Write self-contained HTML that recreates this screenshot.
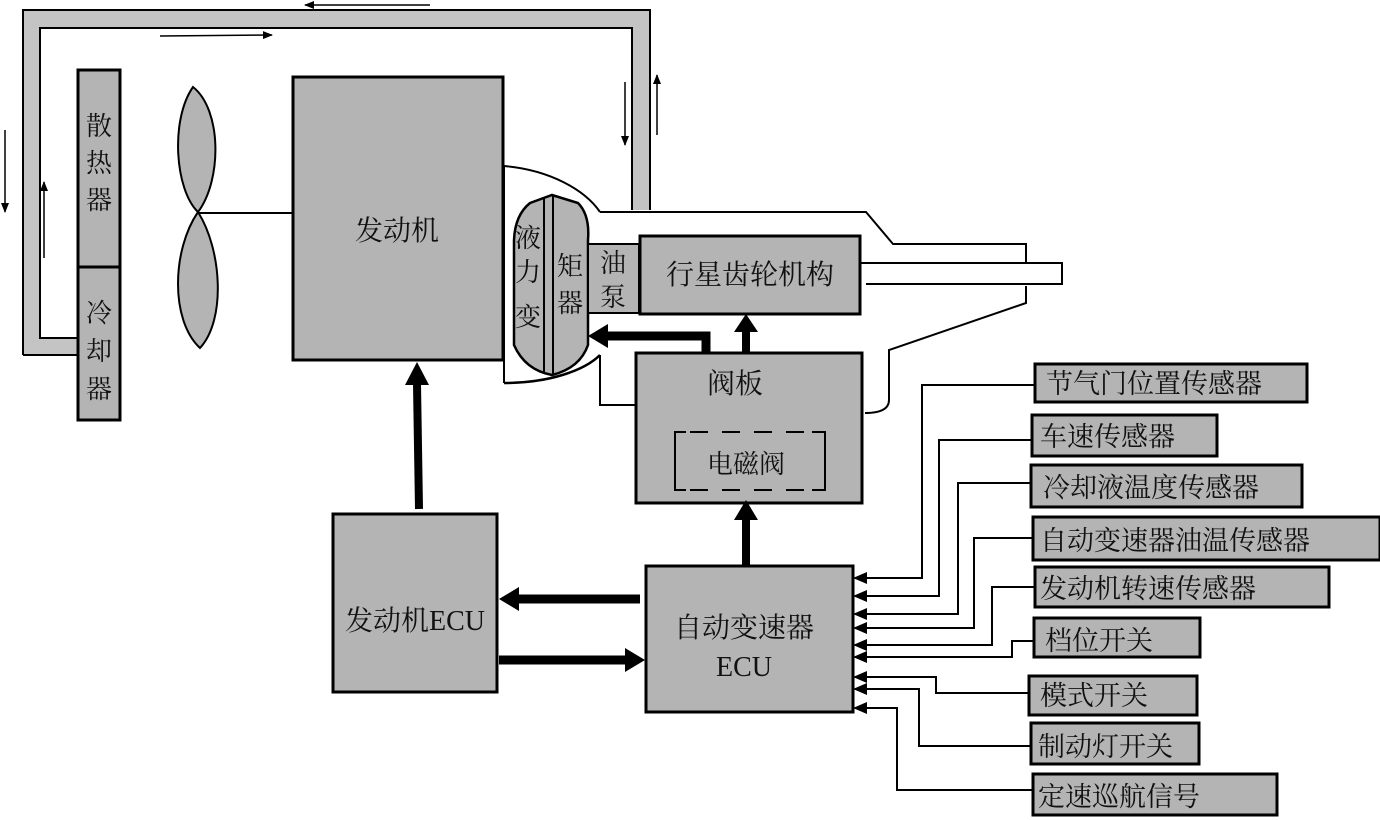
<!DOCTYPE html>
<html><head><meta charset="utf-8"><style>
body{margin:0;background:#fff;}
svg{display:block;}
text{font-family:"Liberation Serif","Noto Serif CJK SC","Noto Sans CJK SC",serif;fill:#111;}
</style></head><body>
<svg width="1380" height="820" viewBox="0 0 1380 820" xmlns="http://www.w3.org/2000/svg">
<defs>
<marker id="ah" markerWidth="10" markerHeight="8" refX="9" refY="4" orient="auto" markerUnits="userSpaceOnUse"><path d="M0,0 L10,4 L0,8 z" fill="#000"/></marker>
</defs>
<!-- pipe -->
<path d="M23,10 H650 V210 H632 V28 H40 V338 H78 V355 H23 Z" fill="#c4c4c4"/>
<path d="M23,355 V10 H650 V210" fill="none" stroke="#000" stroke-width="2"/>
<path d="M78,338 H40 V28 H632 V210" fill="none" stroke="#000" stroke-width="2"/>
<path d="M23,355 H78" stroke="#000" stroke-width="2"/>
<!-- pipe arrows -->
<line x1="430" y1="5" x2="305" y2="5" stroke="#000" stroke-width="1.5" marker-end="url(#ah)"/>
<line x1="160" y1="36" x2="272" y2="35" stroke="#000" stroke-width="1.5" marker-end="url(#ah)"/>
<line x1="5" y1="130" x2="5" y2="212" stroke="#000" stroke-width="1.5" marker-end="url(#ah)"/>
<line x1="44" y1="258" x2="44" y2="182" stroke="#000" stroke-width="1.5" marker-end="url(#ah)"/>
<line x1="625" y1="82" x2="625" y2="145" stroke="#000" stroke-width="1.5" marker-end="url(#ah)"/>
<line x1="657" y1="135" x2="657" y2="75" stroke="#000" stroke-width="1.5" marker-end="url(#ah)"/>
<!-- radiator -->
<rect x="78" y="70" width="42" height="350" fill="#b4b4b4" stroke="#000" stroke-width="3"/>
<line x1="78" y1="267" x2="120" y2="267" stroke="#000" stroke-width="3"/>
<text x="99" y="135" font-size="26" text-anchor="middle">散</text>
<text x="99" y="172" font-size="26" text-anchor="middle">热</text>
<text x="99" y="209" font-size="26" text-anchor="middle">器</text>
<text x="99" y="322" font-size="26" text-anchor="middle">冷</text>
<text x="99" y="360" font-size="26" text-anchor="middle">却</text>
<text x="99" y="398" font-size="26" text-anchor="middle">器</text>
<!-- fan -->
<path d="M193,87 C170,120 175,190 198,212 C222,180 222,110 193,87 Z" fill="#b4b4b4" stroke="#000" stroke-width="2"/>
<path d="M198,212 C172,250 170,320 200,348 C226,320 222,250 198,212 Z" fill="#b4b4b4" stroke="#000" stroke-width="2"/>
<line x1="198" y1="213" x2="293" y2="213" stroke="#000" stroke-width="2"/>
<!-- engine -->
<rect x="293" y="77" width="210" height="283" fill="#b4b4b4" stroke="#000" stroke-width="3"/>
<text x="397" y="240" font-size="28" text-anchor="middle">发动机</text>
<!-- housing -->
<path d="M504,166 C550,170 585,190 600,212" fill="none" stroke="#000" stroke-width="2"/>
<path d="M504,383 C550,383 585,370 600,355" fill="none" stroke="#000" stroke-width="2.5"/>
<line x1="504" y1="166" x2="504" y2="383" stroke="#000" stroke-width="2"/>
<path d="M600,212 H866 L893,244 H1026 V262 M1026,286 V303 L889,350 V400 Q889,413 865,413" fill="none" stroke="#000" stroke-width="2"/>
<path d="M600,355 V405 H636" fill="none" stroke="#000" stroke-width="2"/>
<path d="M860,263 H1062 V284 H866" fill="none" stroke="#000" stroke-width="2"/>
<!-- torque converter -->
<path d="M530,203 L552,195 L578,203 Q590,215 588,240 L588,345 Q580,368 552,375 Q525,370 514,345 L514,240 Q515,215 530,203 Z" fill="#b4b4b4" stroke="#000" stroke-width="2.5"/>
<line x1="544" y1="198" x2="544" y2="372" stroke="#000" stroke-width="2"/>
<line x1="553" y1="195" x2="553" y2="375" stroke="#000" stroke-width="2"/>
<text x="528" y="247" font-size="26" text-anchor="middle">液</text>
<text x="528" y="281" font-size="26" text-anchor="middle">力</text>
<text x="528" y="326" font-size="26" text-anchor="middle">变</text>
<text x="570" y="275" font-size="26" text-anchor="middle">矩</text>
<text x="570" y="312" font-size="26" text-anchor="middle">器</text>
<!-- pump -->
<rect x="588" y="244" width="51" height="69" fill="#b4b4b4" stroke="#000" stroke-width="2"/>
<text x="613" y="272" font-size="26" text-anchor="middle">油</text>
<text x="613" y="306" font-size="26" text-anchor="middle">泵</text>
<!-- planetary -->
<rect x="640" y="236" width="220" height="78" fill="#b4b4b4" stroke="#000" stroke-width="3"/>
<text x="750" y="284" font-size="28" text-anchor="middle">行星齿轮机构</text>
<!-- valve body -->
<rect x="636" y="353" width="226" height="150" fill="#b4b4b4" stroke="#000" stroke-width="3"/>
<text x="735" y="393" font-size="28" text-anchor="middle">阀板</text>
<path d="M686,432 H675 V490 H686 M812,432 H825 V490 H812" fill="none" stroke="#000" stroke-width="2"/>
<line x1="690" y1="432" x2="810" y2="432" stroke="#000" stroke-width="2" stroke-dasharray="18,14"/>
<line x1="690" y1="490" x2="810" y2="490" stroke="#000" stroke-width="2" stroke-dasharray="18,14"/>
<text x="746" y="473" font-size="26" text-anchor="middle">电磁阀</text>
<!-- thick arrows -->
<path d="M706,352 V336 H605" fill="none" stroke="#000" stroke-width="9"/>
<path d="M588,336 L608,324 L608,348 Z" fill="#000"/>
<line x1="746" y1="352" x2="746" y2="330" stroke="#000" stroke-width="8"/>
<path d="M746,314 L734,332 L758,332 Z" fill="#000"/>
<!-- engine ECU -->
<rect x="333" y="514" width="164" height="178" fill="#b4b4b4" stroke="#000" stroke-width="3"/>
<text x="415" y="630" font-size="28" text-anchor="middle">发动机ECU</text>
<line x1="419" y1="509" x2="417" y2="384" stroke="#000" stroke-width="8"/>
<path d="M417,362 L405,385 L429,385 Z" fill="#000"/>
<!-- TCU -->
<rect x="646" y="566" width="207" height="146" fill="#b4b4b4" stroke="#000" stroke-width="3"/>
<text x="744" y="637" font-size="28" text-anchor="middle">自动变速器</text>
<text x="744" y="676" font-size="28" text-anchor="middle">ECU</text>
<line x1="746" y1="565" x2="746" y2="518" stroke="#000" stroke-width="8"/>
<path d="M746,500 L734,520 L758,520 Z" fill="#000"/>
<line x1="640" y1="599" x2="516" y2="599" stroke="#000" stroke-width="9"/>
<path d="M499,599 L519,587 L519,611 Z" fill="#000"/>
<line x1="499" y1="660" x2="628" y2="660" stroke="#000" stroke-width="9"/>
<path d="M645,660 L625,648 L625,672 Z" fill="#000"/>
<!-- sensor wires -->
<g fill="none" stroke="#000" stroke-width="2">
<path d="M1034,385 H922 V578 H856"/>
<path d="M1031,440 H939 V596 H856"/>
<path d="M1030,483 H958 V614 H856"/>
<path d="M1032,538 H974 V628 H856"/>
<path d="M1034,587 H992 V645 H856"/>
<path d="M1033,641 H1012 V657 H856"/>
<path d="M1028,693 H936 V677 H856"/>
<path d="M1030,746 H919 V689 H856"/>
<path d="M1032,790 H897 V708 H856"/>
</g>
<g fill="#000">
<path d="M853,578 l14,-6 v12z"/><path d="M853,596 l14,-6 v12z"/><path d="M853,614 l14,-6 v12z"/>
<path d="M853,628 l14,-6 v12z"/><path d="M853,645 l14,-6 v12z"/><path d="M853,657 l14,-6 v12z"/>
<path d="M853,677 l14,-6 v12z"/><path d="M853,689 l14,-6 v12z"/><path d="M853,708 l14,-6 v12z"/>
</g>
<!-- sensor boxes -->
<g fill="#b4b4b4" stroke="#000" stroke-width="3">
<rect x="1035" y="364" width="272" height="38"/>
<rect x="1032" y="415" width="185" height="41"/>
<rect x="1031" y="465" width="271" height="42"/>
<rect x="1033" y="517" width="347" height="43"/>
<rect x="1035" y="567" width="294" height="40"/>
<rect x="1034" y="618" width="166" height="39"/>
<rect x="1029" y="676" width="168" height="39"/>
<rect x="1031" y="723" width="168" height="41"/>
<rect x="1033" y="774" width="244" height="41"/>
</g>
<g font-size="27">
<text x="1046" y="393">节气门位置传感器</text>
<text x="1040" y="446">车速传感器</text>
<text x="1043" y="497">冷却液温度传感器</text>
<text x="1040" y="550">自动变速器油温传感器</text>
<text x="1040" y="598">发动机转速传感器</text>
<text x="1045" y="650">档位开关</text>
<text x="1040" y="705">模式开关</text>
<text x="1038" y="756">制动灯开关</text>
<text x="1038" y="806">定速巡航信号</text>
</g>
</svg>
</body></html>
